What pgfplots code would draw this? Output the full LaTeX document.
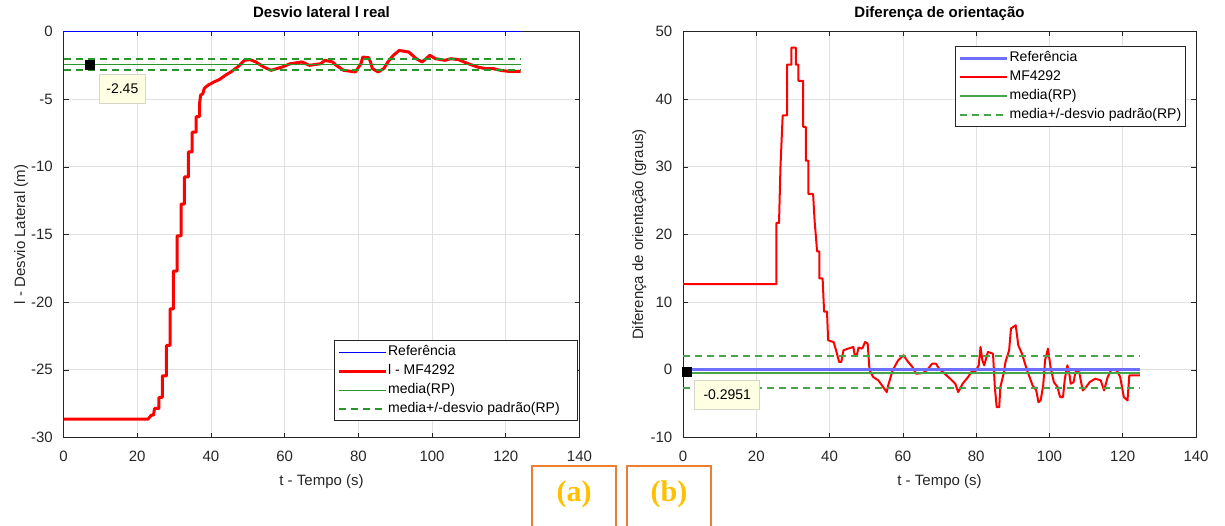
\documentclass[border=0pt]{standalone}
\usepackage{pgfplots}
\pgfplotsset{compat=1.18}
\usepackage{fontspec}
\setmainfont{Liberation Sans}
\newfontfamily\serifb{Liberation Serif}
\definecolor{axgray}{RGB}{38,38,38}
\definecolor{grd}{RGB}{225,225,225}
\definecolor{gr}{RGB}{40,150,40}
\definecolor{grlight}{RGB}{70,165,70}
\definecolor{blight}{RGB}{110,110,255}
\definecolor{tipbg}{RGB}{255,255,228}
\definecolor{tipbd}{RGB}{215,215,200}
\definecolor{orng}{RGB}{237,125,49}
\definecolor{gold}{RGB}{255,192,0}

\pgfplotsset{
  mlab/.style={
    scale only axis,
    xmin=0, xmax=140, xtick={0,20,...,140},
    grid=major, major grid style={grd, line width=0.7pt},
    axis line style={axgray, line width=0.6pt},
    tick style={axgray, line width=0.6pt},
    major tick length=5pt, tick align=inside,
    xtick pos=both, ytick pos=both,
    /pgf/number format/assume math mode=true,
    ticklabel style={font=\fontsize{15}{18}\selectfont, text=axgray, inner sep=0pt},
    xticklabel style={anchor=base, yshift=-23.5pt},
    yticklabel style={anchor=east, xshift=-10.5pt},
    title style={font=\bfseries\fontsize{15}{18}\selectfont, at={(0.5,1)}, anchor=base, yshift=7.5pt},
    xlabel style={font=\fontsize{15}{18}\selectfont, text=axgray, at={(axis description cs:0.5,0)}, anchor=base, yshift=-48pt},
    ylabel style={font=\fontsize{15}{18}\selectfont, text=axgray, anchor=base},
    legend cell align=left,
    legend image code/.code={\draw[#1] (0pt,0pt) -- (47pt,0pt);},
    legend style={draw=axgray, line width=0.6pt, fill=white,
      font=\fontsize{14}{16}\selectfont, inner xsep=3pt, inner ysep=2pt,
      nodes={inner sep=1pt, text height=12pt, text depth=5pt}},
  },
}
\tikzset{dtip/.style={anchor=north west, fill=tipbg, draw=tipbd, line width=0.6pt,
    font=\fontsize{14}{16}\selectfont, inner sep=0pt, minimum height=29pt}}

\begin{document}
\begin{tikzpicture}
\path[use as bounding box] (0pt,0pt) rectangle (1225pt,-526pt);

% ---------- (a) lateral deviation ----------
\begin{axis}[mlab,
  at={(63.5pt,-437.5pt)}, width=516pt, height=406pt,
  ymin=-30, ymax=0, ytick={-30,-25,...,0},
  title={Desvio lateral l real},
  xlabel={t - Tempo (s)},
  ylabel={l - Desvio Lateral (m)},
  ylabel style={at={([xshift=-38.5pt]axis description cs:0,0.5)}},
  legend style={at={(1,0)}, anchor=south east, xshift=-1.5pt, yshift=16.5pt},
]
\addplot[draw=blue, line width=1.3pt] coordinates {(0,0)(124,0)};
\addlegendentry{Referência}
\addplot[draw=red, line width=3pt, line join=round] coordinates {
(0,-28.65)(22.9,-28.65)(23.8,-28.35)(24.4,-28.35)(24.7,-27.85)(25.9,-27.85)
(25.9,-27.04)(26.8,-27.04)(26.8,-25.45)(27.9,-25.45)(27.9,-23.2)(28.9,-23.2)
(28.9,-20.5)(29.8,-20.5)(29.8,-17.7)(30.8,-17.7)(30.8,-15.1)(31.9,-15.1)
(31.9,-12.75)(32.8,-12.75)(32.8,-10.75)(33.9,-10.75)(33.9,-8.9)(34.9,-8.9)
(34.9,-7.44)(36.0,-7.44)(36.0,-6.29)(36.9,-6.29)(36.9,-5.35)(37.2,-4.7)
(37.8,-4.6)(38.2,-4.2)(39.2,-3.97)(40.8,-3.73)(42.3,-3.55)(43.9,-3.24)
(45.4,-2.99)(47.5,-2.57)(49.1,-2.13)(50.6,-2.08)(52.2,-2.25)(54.3,-2.62)
(56.3,-2.87)(59.4,-2.62)(61.5,-2.38)(64.7,-2.25)(66.7,-2.5)(69.8,-2.38)
(70.9,-2.13)(73,-2.25)(74,-2.5)(76,-2.87)(79.2,-2.99)(80.7,-2.38)
(81.2,-1.89)(82.8,-1.94)(83.3,-2.25)(83.8,-2.74)(85.4,-2.99)(86.9,-2.74)
(88,-2.25)(89.5,-1.76)(91.1,-1.4)(93.7,-1.52)(95.7,-2.01)(97.3,-2.25)
(99.4,-1.76)(100.9,-2.01)(103.5,-2.13)(105.1,-2.01)(107.2,-2.08)(109.8,-2.38)
(112.3,-2.62)(114.4,-2.74)(116.5,-2.74)(118.6,-2.87)(120.6,-2.94)(124,-2.94)};
\addlegendentry{l - MF4292}
\addplot[draw=gr, line width=1.4pt] coordinates {(0,-2.45)(124,-2.45)};
\addlegendentry{media(RP)}
\addplot[draw=gr, line width=2pt, dash pattern=on 7pt off 5pt] coordinates {(0,-2.02)(124,-2.02)};
\addlegendentry{media+/-desvio padrão(RP)\rule{14pt}{0pt}}
\addplot[draw=gr, line width=2pt, dash pattern=on 7pt off 5pt, forget plot] coordinates {(0,-2.88)(124,-2.88)};
\addplot[only marks, mark=square*, mark size=4.5pt, black, forget plot] coordinates {(7.2,-2.45)};
\node[dtip, minimum width=46pt, xshift=9pt, yshift=-9.5pt] at (axis cs:7.2,-2.45) {-2.45};
\end{axis}

% ---------- (b) heading difference ----------
\begin{axis}[mlab,
  at={(683pt,-437.5pt)}, width=513pt, height=406pt,
  ymin=-10, ymax=50, ytick={-10,0,...,50},
  title={Diferença de orientação},
  xlabel={t - Tempo (s)},
  ylabel={Diferença de orientação (graus)},
  ylabel style={at={([xshift=-40pt]axis description cs:0,0.5)}},
  legend style={at={(1,1)}, anchor=north east, xshift=-10.5pt, yshift=-15pt},
]
\addplot[draw=blight, line width=3pt] coordinates {(0,0)(124.7,0)};
\addlegendentry{Referência}
\addplot[draw=red, line width=2pt, line join=round] coordinates {
(0,12.65)(25.5,12.65)(25.5,21.7)(26.2,21.7)(26.6,30)(27.2,37.6)(28.4,37.6)
(28.4,45.1)(29.6,45.1)(29.6,47.6)(30.8,47.6)(30.8,45.1)(31.5,45.1)(31.5,42.7)
(32.8,42.7)(32.8,35.9)(33.5,35.9)(33.5,30.9)(34.2,30.9)(34.2,26.0)(35.5,26.0)
(35.9,22.1)(36.6,17.5)(37.2,17.5)(37.2,13.5)(38.1,13.5)(38.5,8.6)(39.3,8.6)
(39.6,4.37)(41.1,4.1)(41.9,2.64)(42.6,1.16)(43.2,1.16)(43.8,2.89)(45,3.13)
(46.5,3.38)(46.8,2.29)(47.5,2.29)(47.9,3.28)(48.9,3.13)(49.7,4.12)(50.4,3.87)
(50.9,-0.08)(51.9,-1.06)(53.3,-1.56)(54.3,-2.3)(55.6,-3.29)(56,-2.3)
(57.2,-0.08)(58.7,1.4)(60.2,2.15)(61.1,1.4)(62.6,0.42)(63.6,-0.57)(65.5,-0.47)
(66.5,-0.08)(68,0.91)(69,0.91)(69.9,0.17)(71.4,-0.57)(72.9,-1.31)(74.3,-2.05)
(75.1,-3.29)(76.3,-2.05)(77.8,-1.06)(78.7,-0.32)(79.7,-0.32)(80.7,0.67)
(81.2,3.38)(81.7,1.4)(82.2,0.67)(83.2,2.64)(84.6,2.39)(85.1,-2.55)(85.6,-5.51)
(86.3,-5.51)(86.6,-2.55)(87.5,-0.57)(88,1.16)(89,2.89)(89.5,6.1)(90.8,6.59)
(91.5,3.62)(92.5,2.39)(93.9,-0.08)(95.4,-2.3)(96.4,-3.04)(97,-4.77)(97.6,-4.52)
(98.3,-2.3)(98.8,1.4)(99.6,3.13)(100.3,0.42)(101.2,-1.8)(102.2,-2.55)
(102.9,-4.03)(103.7,-4.03)(104.2,-1.31)(104.9,0.67)(105.5,-0.82)(105.8,-2.05)
(106.6,-1.8)(107.1,-0.32)(108.1,-0.32)(109.1,-3.04)(110,-2.55)(111,-1.8)
(112.5,-1.31)(114,-1.56)(114.9,-3.04)(115.9,-1.06)(116.9,0.02)(118.4,-0.08)
(119.3,-1.06)(120.3,-4.03)(121.3,-4.52)(121.8,-0.82)(124.7,-0.82)};
\addlegendentry{MF4292}
\addplot[draw=grlight, line width=2pt] coordinates {(0,-0.45)(124.7,-0.45)};
\addlegendentry{media(RP)}
\addplot[draw=grlight, line width=1.6pt, dash pattern=on 7pt off 5pt] coordinates {(0,2.05)(124.7,2.05)};
\addlegendentry{media+/-desvio padrão(RP)}
\addplot[draw=grlight, line width=1.8pt, dash pattern=on 7pt off 5pt, forget plot] coordinates {(0,-2.64)(124.7,-2.64)};
\addplot[draw=blight, line width=3pt, forget plot] coordinates {(0,0)(124.7,0)};
\addplot[only marks, mark=square*, mark size=4.5pt, black, forget plot] coordinates {(0.95,-0.2951)};
\node[dtip, minimum width=65pt, xshift=8pt, yshift=-8pt] at (axis cs:0.95,-0.2951) {-0.2951};
\end{axis}

% ---------- panel tags ----------
\draw[orng, line width=1.5pt] (532pt,-530pt) -- (532pt,-466pt) -- (616pt,-466pt) -- (616pt,-530pt);
\draw[orng, line width=1.5pt] (627pt,-530pt) -- (627pt,-466pt) -- (711pt,-466pt) -- (711pt,-530pt);
\node[text=gold, font=\serifb\bfseries\fontsize{30}{32}\selectfont, inner sep=0pt] at (574pt,-494pt) {(a)};
\node[text=gold, font=\serifb\bfseries\fontsize{30}{32}\selectfont, inner sep=0pt] at (669pt,-494pt) {(b)};
\end{tikzpicture}
\end{document}
